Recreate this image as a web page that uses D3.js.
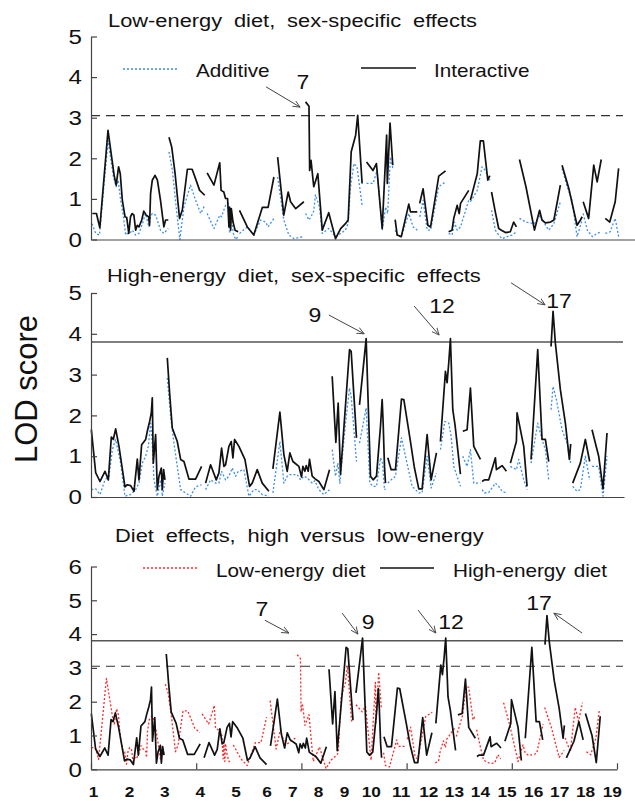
<!DOCTYPE html>
<html lang="en">
<head>
<meta charset="UTF-8">
<title>LOD scans</title>
<script src="https://d3js.org/d3.v7.min.js"></script>
<style>
  body { margin: 0; background: #fff; }
  text { font-family: "Liberation Sans", Arial, sans-serif; fill: #111; }
</style>
</head>
<body>
<svg id="chart" width="635" height="801"></svg>
<script>
// genome position (arbitrary cM-like units, 0..1600), LOD score
// low-energy diet, interactive (sex-specific) model
const lowInteractive = [
  [[1,0.64],[13,0.64],[23,0.29],[47,2.69],[65,1.58],[71,1.34],[78,1.79],[83,1.62],[89,0.97],[97,0.56],[102,0.54],[108,0.15],[113,0.56],[118,0.64],[123,0.6],[128,0.23],[133,0.35],[138,0.31],[146,0.48],[152,0.7],[159,0.6],[166,0.56],[169,0.35],[172,1.13],[177,1.46],[185,1.58],[192,1.46],[201,0.97],[211,0.31],[216,0.48],[224,0.48]],
  [[226,2.52],[234,2.28],[244,1.62],[257,0.52],[265,0.72],[280,1.73],[294,1.73],[304,1.5],[316,1.21],[331,1.09]],
  [[338,1.64],[358,1.34],[375,1.89],[379,1.21],[387,1.17],[392,1.01],[398,1.01],[402,0.31],[404,0.8],[407,0.23],[409,0.76],[414,0.43],[420,0.23],[429,0.19]],
  [[433,0.72],[456,0.31],[475,0.11],[500,0.79],[517,0.79],[534,1.54]],
  [[545,2.03],[563,0.6],[576,1.17],[583,0.93],[598,0.76],[622,0.93]],
  [[627,3.39],[637,3.28],[639,1.7],[643,1.95],[651,1.3],[663,1.62],[676,0.23],[695,0.66],[715,0.02],[730,0.27],[744,0.39],[752,0.48],[761,2.16],[774,2.57],[780,3.06],[793,1.38]],
  [[806,1.91],[825,1.7],[835,1.87],[852,0.27],[865,2.57],[867,1.38],[875,2.87],[883,1.83]],
  [[890,0.49],[896,0.11],[908,0.07],[930,0.87],[935,0.68],[955,0.68]],
  [[962,0.89],[972,1.25],[986,0.35],[994,0.31],[1018,1.56],[1038,1.69]],
  [[1047,0.19],[1057,0.23],[1062,0.52],[1072,0.84],[1078,0.64],[1082,0.89],[1106,1.21]],
  [[1111,0.97],[1131,1.62],[1140,2.43],[1149,2.43],[1162,1.46],[1168,1.57]],
  [[1173,1.17],[1184,0.68],[1194,0.27],[1202,0.23],[1214,0.17],[1228,0.19],[1238,0.43],[1246,0.31]],
  [[1255,1.97],[1274,1.3],[1299,0.23],[1314,0.72],[1321,0.48],[1331,0.41],[1346,0.43],[1356,0.48],[1375,1.34]],
  [[1380,1.83],[1400,1.25],[1424,0.35],[1434,0.48],[1439,0.56]],
  [[1442,0.93],[1458,0.52],[1473,1.83],[1483,1.42],[1495,1.97]],
  [[1507,0.52],[1520,0.43],[1536,0.93],[1546,1.75]]
];
// low-energy diet, additive model
const lowAdditive = [
  [[0,0.39],[11,0.15],[22,0.11],[47,2.44],[63,1.54],[71,1.3],[77,1.46],[84,0.97],[91,0.64],[99,0.11],[104,0.15],[111,0.15],[118,0.23],[128,0.11],[138,0.15],[148,0.39],[157,0.64],[167,0.31],[172,0.56],[177,0.64],[187,0.6],[201,0.23],[211,0.15],[224,0.27]],
  [[226,2.16],[236,1.7],[247,0.8],[258,0.0],[270,0.8],[289,1.34],[304,0.97],[319,0.64],[331,0.84]],
  [[338,0.64],[358,0.27],[375,0.6],[380,0.56],[392,0.84],[400,0.89],[404,0.15],[409,0.56],[415,0.15],[422,0.0],[429,0.07]],
  [[433,0.15],[456,0.31],[475,0.11],[495,0.48],[510,0.43],[517,0.31],[534,0.52]],
  [[545,1.54],[563,0.48],[578,0.11],[593,0.02],[607,0.05],[622,0.07]],
  [[627,0.64],[637,0.48],[643,0.56],[651,0.7],[656,1.1],[668,0.8],[676,0.15],[695,0.27],[715,0.07],[730,0.15],[744,0.23],[752,0.4],[759,1.3],[769,1.87],[778,1.79],[793,0.84]],
  [[806,1.38],[825,1.38],[837,1.7],[852,0.23],[862,0.8],[868,0.64],[876,2.03],[883,1.75]],
  [[890,0.23],[898,0.08],[908,0.07],[930,0.64],[943,0.31],[955,0.23]],
  [[962,0.56],[972,0.97],[984,0.23],[994,0.23],[1018,1.3],[1038,1.42]],
  [[1047,0.15],[1057,0.11],[1064,0.43],[1072,0.23],[1082,0.31],[1106,0.97]],
  [[1111,0.93],[1131,1.21],[1145,1.79],[1155,1.7],[1168,1.46]],
  [[1173,0.72],[1184,0.23],[1194,0.11],[1204,0.02],[1219,0.07],[1233,0.11],[1246,0.19]],
  [[1255,0.52],[1274,0.43],[1299,0.39],[1316,0.6],[1326,0.43],[1341,0.23],[1356,0.39],[1375,0.93]],
  [[1380,1.75],[1395,1.3],[1409,0.97],[1424,0.07],[1439,0.48]],
  [[1442,0.64],[1454,0.23],[1469,0.07],[1483,0.15],[1495,0.19]],
  [[1507,0.15],[1521,0.19],[1536,0.52],[1546,0.07]]
];
// high-energy diet, interactive model
const highInteractive = [
  [[1,1.65],[14,0.6],[27,0.38],[42,0.63],[52,0.42],[61,1.47],[67,1.41],[74,1.67],[84,1.24],[102,0.25],[109,0.3],[119,0.28],[129,0.14],[139,0.93],[144,0.42],[152,1.28],[164,1.41],[169,1.61],[176,1.85],[181,2.06],[184,2.43],[187,0.83],[194,1.53],[199,0.18],[204,0.51],[211,0.71],[214,0.18],[218,0.67],[222,0.42]],
  [[229,3.41],[236,2.55],[244,1.69],[259,1.36],[269,0.92],[279,0.87],[294,0.44],[314,0.44],[332,0.75]],
  [[344,0.34],[359,0.79],[376,0.42],[384,0.59],[392,1.2],[399,0.75],[404,0.79],[414,1.24],[421,1.36],[426,0.96],[431,1.41],[444,1.24],[462,0.92],[476,0.26],[484,0.34],[499,0.67],[514,0.34],[534,0.14]],
  [[546,0.69],[567,2.08],[579,1.04],[589,0.63],[597,1.08],[606,0.87],[624,0.75],[632,0.49],[636,0.75],[642,0.63],[646,0.77],[652,0.63],[656,0.92],[664,0.51],[672,0.45],[684,0.38],[699,0.18],[716,0.67]],
  [[724,2.96],[735,1.34],[742,2.3],[749,0.55],[776,3.61],[781,3.57],[797,1.45]],
  [[806,2.26],[826,3.88],[839,0.51],[847,0.42],[857,0.51],[869,1.73],[874,2.39],[877,1.81],[881,0.75],[884,0.34]],
  [[891,0.96],[901,0.67],[914,0.67],[932,2.4],[939,2.39],[959,1.36],[971,0.71],[984,0.2],[994,0.2],[1009,1.53],[1021,0.42],[1037,1.08]],
  [[1049,1.36],[1064,3.08],[1069,2.8],[1074,3.3],[1079,3.88],[1086,2.14],[1093,1.75],[1109,0.56]],
  [[1116,1.61],[1129,1.65],[1139,2.67],[1149,1.24],[1169,0.92]],
  [[1174,0.38],[1181,0.42],[1194,0.42],[1214,0.96],[1217,0.67],[1224,0.71],[1234,0.77],[1247,0.63]],
  [[1259,0.83],[1277,1.36],[1279,2.06],[1299,1.24],[1309,0.26]],
  [[1321,0.92],[1341,3.61],[1354,1.41],[1364,1.41],[1374,0.87]],
  [[1381,3.69],[1387,4.55],[1394,3.77],[1409,2.63],[1424,1.81],[1436,0.92],[1440,1.3]],
  [[1446,0.34],[1469,0.83],[1484,1.41],[1497,0.87]],
  [[1504,1.65],[1524,1.0],[1537,0.2],[1549,1.57]]
];
// high-energy diet, additive model
const highAdditive = [
  [[1,0.18],[14,0.2],[27,0.06],[42,0.42],[54,0.51],[64,1.16],[74,1.41],[89,0.83],[102,0.02],[119,0.06],[134,0.18],[144,0.34],[154,0.83],[164,1.0],[172,1.24],[179,1.81],[184,1.32],[189,0.42],[199,0.02],[209,0.42],[214,0.02],[222,0.34]],
  [[229,2.92],[239,1.98],[249,1.32],[259,0.75],[269,0.18],[284,0.1],[299,0.02],[314,0.25],[332,0.3]],
  [[344,0.18],[359,0.42],[374,0.34],[384,0.34],[392,0.63],[404,0.42],[414,0.51],[424,0.71],[434,0.51],[442,0.63],[459,0.67],[474,0.02],[489,0.18],[499,0.18],[514,0.06],[534,0.02]],
  [[546,0.1],[567,1.36],[579,0.34],[589,0.51],[599,0.55],[619,0.55],[629,0.42],[639,0.51],[649,0.47],[664,0.34],[672,0.4],[684,0.18],[699,0.06],[716,0.18]],
  [[724,1.16],[734,0.51],[741,0.83],[747,0.34],[764,1.81],[776,2.67],[781,2.47],[797,0.87]],
  [[806,1.32],[826,2.18],[837,0.34],[847,0.26],[857,0.26],[869,0.96],[875,0.83],[881,0.18],[884,0.2]],
  [[891,0.34],[901,0.42],[914,0.51],[932,1.45],[944,1.0],[964,0.26],[984,0.1],[994,0.1],[1009,1.0],[1021,0.22],[1037,0.59]],
  [[1049,1.16],[1062,1.85],[1074,1.81],[1081,1.49],[1089,0.75],[1109,0.26]],
  [[1116,1.0],[1129,0.75],[1139,1.16],[1149,0.34],[1169,0.34]],
  [[1174,0.18],[1181,0.1],[1194,0.11],[1214,0.34],[1224,0.26],[1234,0.14],[1247,0.1]],
  [[1259,0.75],[1277,0.67],[1284,0.92],[1299,0.42],[1309,0.18]],
  [[1321,0.83],[1341,1.81],[1354,1.41],[1364,1.16],[1374,0.42]],
  [[1381,2.14],[1387,2.71],[1397,2.39],[1414,1.65],[1429,1.32],[1440,0.83]],
  [[1446,0.26],[1459,0.14],[1469,0.18],[1484,1.0],[1497,0.42]],
  [[1504,0.75],[1524,0.75],[1537,0.02],[1549,1.0]]
];

const chromLabels = ["1","2","3","4","5","6","7","8","9","10","11","12","13","14","15","16","17","18","19"];
const chromPos = [6,116,223,331,440,534,612,691,770,851,942,1026,1104,1183,1264,1345,1424,1503,1584];
const axisTicks = [0,320,640,960,1280,1600];

const suggestive = 3.05;   // dashed
const significant = 3.8;   // solid

// peak annotations: label, text position, arrow start, arrow end (pos, LOD)
const notesLow  = [{t:"7", at:[619,3.71], from:[511,3.76], to:[611,3.26]}];
const notesHigh = [
  {t:"9",  at:[672,4.29],  from:[714,4.46],  to:[820,4.0]},
  {t:"12", at:[1054,4.51], from:[970,4.68],  to:[1045,3.97]},
  {t:"17", at:[1405,4.63], from:[1261,5.25], to:[1363,4.71]}
];
const notesDiet = [
  {t:"7",  at:[520,4.53],  from:[529,4.41],  to:[602,4.03]},
  {t:"9",  at:[843,4.15],  from:[764,4.62],  to:[812,4.0]},
  {t:"12", at:[1095,4.15], from:[995,4.71],  to:[1049,4.03]},
  {t:"17", at:[1363,4.71], from:[1494,4.03], to:[1408,4.62]}
];

const styles = {
  black: {stroke: "#111", width: 1.7, dash: null},
  blue:  {stroke: "#3d8fec", width: 1.3, dash: "2,2"},
  red:   {stroke: "#ff2b2b", width: 1.3, dash: "2,2"}
};

const panels = [
  {title: "Low-energy diet, sex-specific effects", titleX: 108, titleY: 27,
   xRange: [92, 637], yRange: [239.5, 36.5], yMax: 5,
   series: [{data: lowAdditive, s: "blue"}, {data: lowInteractive, s: "black"}],
   lines: [{v: suggestive, dash: true}],
   legend: [{s: "blue", x1: 123, x2: 178, y: 69, text: "Additive", tx: 196, ty: 77},
            {s: "black", x1: 361, x2: 416, y: 68, text: "Interactive", tx: 434, ty: 77}],
   notes: notesLow, ticks: false},
  {title: "High-energy diet, sex-specific effects", titleX: 107, titleY: 282,
   xRange: [91, 624], yRange: [497, 293], yMax: 5,
   series: [{data: highAdditive, s: "blue"}, {data: highInteractive, s: "black"}],
   lines: [{v: significant, dash: false}],
   legend: [], notes: notesHigh, ticks: false},
  {title: "Diet effects, high versus low-energy", titleX: 115, titleY: 542,
   xRange: [91, 617], yRange: [769.3, 566.5], yMax: 6,
   series: [{data: lowInteractive, s: "red"}, {data: highInteractive, s: "black"}],
   lines: [{v: significant, dash: false}, {v: suggestive, dash: true}],
   legend: [{s: "red", x1: 143, x2: 197, y: 568, text: "Low-energy diet", tx: 216, ty: 577},
            {s: "black", x1: 380, x2: 434, y: 568, text: "High-energy diet", tx: 453, ty: 577}],
   notes: notesDiet, ticks: true}
];

const svg = d3.select("#chart");
const stretch = 1.15;  // the original lettering is horizontally widened

svg.append("defs").append("marker")
  .attr("id", "arr").attr("viewBox", "0 0 10 10")
  .attr("refX", 9).attr("refY", 5)
  .attr("markerWidth", 8).attr("markerHeight", 8)
  .attr("orient", "auto")
  .append("path").attr("d", "M0,1 L9,5 L0,9")
  .attr("fill", "none").attr("stroke", "#444").attr("stroke-width", 1.1);

function label(g, x, y, str, size, anchor, weight) {
  return g.append("text")
    .attr("transform", "translate(" + x + "," + y + ") scale(" + stretch + ",1)")
    .attr("text-anchor", anchor || "start")
    .style("font-size", size + "px")
    .style("font-weight", weight || "normal")
    .text(str);
}

const yAxisX = 91;
const lineEnd = 623;

panels.forEach(function(p) {
  const g = svg.append("g");
  const x = d3.scaleLinear().domain([0, 1600]).range(p.xRange);
  const y = d3.scaleLinear().domain([0, p.yMax]).range(p.yRange);

  label(g, p.titleX, p.titleY, p.title, 19).style("word-spacing", "5px");

  // threshold lines
  p.lines.forEach(function(l) {
    g.append("line")
      .attr("x1", yAxisX).attr("x2", lineEnd)
      .attr("y1", y(l.v)).attr("y2", y(l.v))
      .attr("stroke", l.dash ? "#333" : "#555")
      .attr("stroke-width", l.dash ? 1.1 : 1.5)
      .attr("stroke-dasharray", l.dash ? "9,6" : null);
  });

  // curves
  const line = d3.line().x(d => x(d[0])).y(d => y(d[1]));
  p.series.forEach(function(sr) {
    const st = styles[sr.s];
    g.append("g").selectAll("path")
      .data(sr.data)
      .join("path")
      .attr("d", line)
      .attr("fill", "none")
      .attr("stroke", st.stroke)
      .attr("stroke-width", st.width)
      .attr("stroke-dasharray", st.dash)
      .attr("stroke-linejoin", "round");
  });

  // y axis
  const ya = g.append("g").attr("transform", "translate(" + yAxisX + ",0)")
    .call(d3.axisLeft(y).tickValues(d3.range(0, p.yMax + 1))
      .tickSizeInner(-6).tickSizeOuter(0).tickPadding(8).tickFormat(d3.format("d")));
  ya.select(".domain").attr("stroke", "#444").attr("stroke-width", 1.2);
  ya.selectAll(".tick line").attr("stroke", "#444").attr("stroke-width", 1.2);
  ya.selectAll(".tick text").style("font-size", "21px")
    .attr("transform", "scale(" + stretch + ",1)");

  // x axis
  const xa = g.append("g").attr("transform", "translate(0," + y(0) + ")")
    .call(d3.axisBottom(x).tickValues(p.ticks ? axisTicks : [])
      .tickSizeInner(-6).tickSizeOuter(0).tickFormat(""));
  xa.select(".domain").attr("stroke", "#444").attr("stroke-width", 1.2);
  xa.selectAll(".tick line").attr("stroke", "#444").attr("stroke-width", 1.2);

  if (p.ticks) {
    const ca = g.append("g").attr("transform", "translate(0," + y(0) + ")")
      .call(d3.axisBottom(x).tickValues(chromPos)
        .tickFormat((d, i) => chromLabels[i]).tickSize(0).tickPadding(17));
    ca.select(".domain").remove();
    ca.selectAll(".tick text").style("font-size", "15px").style("font-weight", "bold")
      .attr("transform", "scale(" + stretch + ",1)");
  }

  // legend
  p.legend.forEach(function(lg) {
    const st = styles[lg.s];
    g.append("line").attr("x1", lg.x1).attr("x2", lg.x2).attr("y1", lg.y).attr("y2", lg.y)
      .attr("stroke", st.stroke).attr("stroke-width", st.width).attr("stroke-dasharray", st.dash);
    label(g, lg.tx, lg.ty, lg.text, 18).style("word-spacing", "2px");
  });

  // peak annotations
  p.notes.forEach(function(n) {
    g.append("line")
      .attr("x1", x(n.from[0])).attr("y1", y(n.from[1]))
      .attr("x2", x(n.to[0])).attr("y2", y(n.to[1]))
      .attr("stroke", "#444").attr("stroke-width", 1)
      .attr("marker-end", "url(#arr)");
    label(g, x(n.at[0]), y(n.at[1]), n.t, 20, "middle");
  });
});

svg.append("text")
  .attr("transform", "translate(37,389) rotate(-90)")
  .attr("text-anchor", "middle")
  .style("font-size", "31px")
  .text("LOD score");
</script>
</body>
</html>
